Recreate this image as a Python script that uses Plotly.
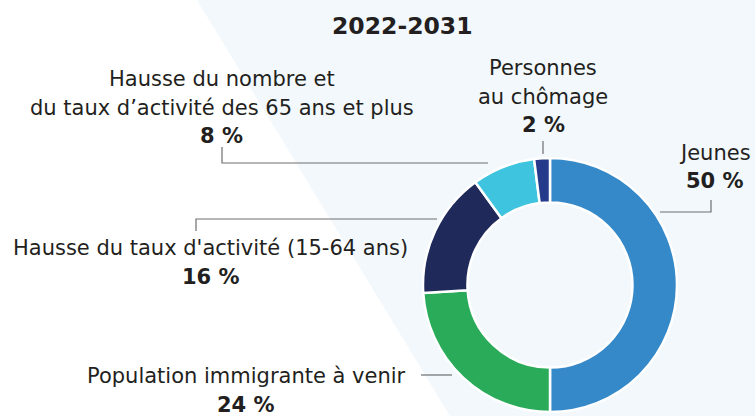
import plotly.graph_objects as go

W, H = 755, 416

title = "2022-2031"
categories = ["Jeunes", "Population immigrante à venir", "Hausse du taux d'activité (15-64 ans)",
              "Hausse du nombre et<br>du taux d’activité des 65 ans et plus", "Personnes<br>au chômage"]
values = [50, 24, 16, 8, 2]
colors = ["#3589c9", "#2aab5a", "#1f2a5a", "#3ec4de", "#263a8c"]

def px(x):
    return x / W

def py(y):
    return 1 - y / H

cx, cy, R = 550, 285, 127

fig = go.Figure()
fig.add_trace(go.Pie(
    values=values, labels=[c.replace("<br>", " ") for c in categories], sort=False,
    direction="clockwise", rotation=0,
    hole=0.65, textinfo="none", hoverinfo="label+value",
    marker=dict(colors=colors, line=dict(color="white", width=2.5)),
    domain=dict(x=[px(cx - R), px(cx + R)], y=[py(cy + R), py(cy - R)]),
    showlegend=False,
))

shapes = [
    dict(type="path", xref="paper", yref="paper",
         path=f"M {px(197)} {py(0)} L 1 {py(0)} L 1 {py(H)} L {px(450)} {py(H)} Z",
         fillcolor="#f2f8fc", line=dict(width=0), layer="below"),
]
lines = [
    [(660, 212), (711, 212), (711, 200)],
    [(543, 154), (543, 141)],
    [(488, 163), (222, 163), (222, 147)],
    [(437, 219), (196, 219), (196, 231)],
    [(421, 375), (452, 375)],
]
for pts in lines:
    path = "M " + " L ".join(f"{px(x)} {py(y)}" for x, y in pts)
    shapes.append(dict(type="path", xref="paper", yref="paper", path=path,
                       line=dict(color="#6d6e71", width=1.2)))

font_lbl = "DejaVu Sans, sans-serif"
tc = "#231f20"
# (center x, y of first line) for each label block
label_pos = [(715, 153), (246, 376), (211, 248), (222, 79), (543, 68)]
LH = 28.5
annotations = []
for (x, y0), cat, v in zip(label_pos, categories, values):
    rows = cat.split("<br>") + [f"<b>{v} %</b>"]
    for i, r in enumerate(rows):
        annotations.append(dict(x=px(x), y=py(y0 + i * LH), xref="paper", yref="paper",
                                text=r, showarrow=False, xanchor="center", yanchor="middle",
                                font=dict(family=font_lbl, size=21, color=tc)))
annotations.append(dict(x=px(402), y=py(26), xref="paper", yref="paper", text=f"<b>{title}</b>",
                        showarrow=False, xanchor="center", yanchor="middle",
                        font=dict(family="DejaVu Sans, sans-serif", size=23.5, color=tc)))

fig.update_layout(width=W, height=H, margin=dict(l=0, r=0, t=0, b=0),
                  paper_bgcolor="white", plot_bgcolor="white",
                  shapes=shapes, annotations=annotations)
fig.write_html("out.html", config={"displayModeBar": False},
               post_script="document.body.style.margin='0';document.body.style.overflow='hidden';")
